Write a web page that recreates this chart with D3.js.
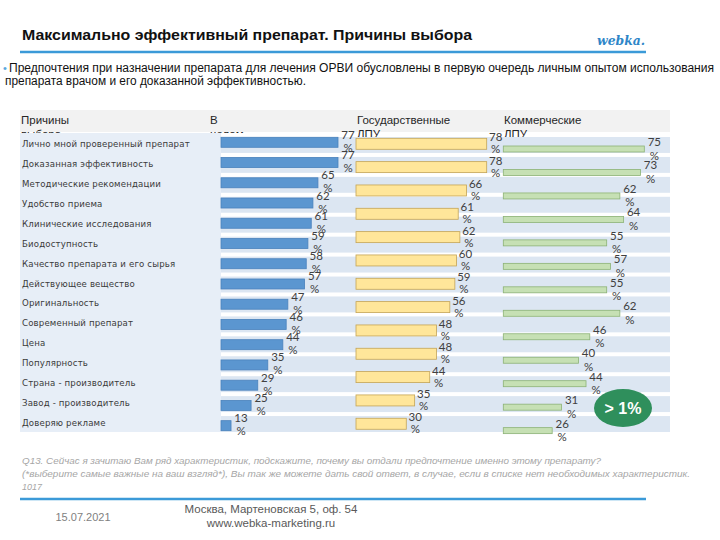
<!DOCTYPE html>
<html><head><meta charset="utf-8">
<script src="https://cdn.jsdelivr.net/npm/d3@7"></script>
<style>body{margin:0;background:#fff} svg{display:block}</style>
</head><body>
<script>
// ---------- DATA ----------
const categories = [
  "Лично мной проверенный препарат",
  "Доказанная эффективность",
  "Методические рекомендации",
  "Удобство приема",
  "Клинические исследования",
  "Биодоступность",
  "Качество препарата и его сырья",
  "Действующее вещество",
  "Оригинальность",
  "Современный препарат",
  "Цена",
  "Популярность",
  "Страна - производитель",
  "Завод - производитель",
  "Доверяю рекламе"
];
const totalValues = [77, 77, 65, 62, 61, 59, 58, 57, 47, 46, 44, 35, 29, 25, 13];
const govValues   = [78, 78, 66, 61, 62, 60, 59, 56, 48, 48, 44, 35, 30];
const comValues   = [75, 73, 62, 64, 55, 57, 55, 62, 46, 40, 44, 31, 26];
const columnHeaders = [["Причины", "выбора"], ["В", "целом"], ["Государственные", "ЛПУ"], ["Коммерческие", "ЛПУ"]];
const titleText = "Максимально эффективный препарат. Причины выбора";
const subtitleLines = [
  "Предпочтения при назначении препарата для лечения ОРВИ обусловлены в первую очередь личным опытом использования",
  "препарата врачом и его доказанной эффективностью."
];
const footnoteLines = [
  "Q13. Сейчас я зачитаю Вам ряд характеристик, подскажите, почему вы отдали предпочтение именно этому препарату?",
  "(*выберите самые важные на ваш взгляд*), Вы так же можете дать свой ответ, в случае, если в списке нет необходимых характеристик.",
  "1017"
];
const badgeText = "> 1%";
const logoText = "webka.";
const dateText = "15.07.2021";
const addressLines = ["Москва, Мартеновская 5, оф. 54", "www.webka-marketing.ru"];

// ---------- CHART ----------
const W = 720, H = 540;
const svg = d3.select("body").append("svg").attr("width", W).attr("height", H)
  .style("font-family", "'Liberation Sans', Arial, sans-serif");

const blue = "#3b9ad8";

// Title
svg.append("text").attr("x", 22).attr("y", 40)
  .attr("font-size", 15.5).attr("font-weight", "bold").attr("fill", "#111")
  .attr("textLength", 450).attr("lengthAdjust", "spacingAndGlyphs")
  .text(titleText);
svg.append("text").attr("x", 597).attr("y", 45)
  .attr("font-family", "'DejaVu Serif', serif").attr("font-style", "italic").attr("font-weight", "bold")
  .attr("font-size", 12.5).attr("fill", "#2e86c8")
  .attr("textLength", 48).attr("lengthAdjust", "spacingAndGlyphs")
  .text(logoText);
svg.append("line").attr("x1", 20).attr("x2", 646).attr("y1", 52).attr("y2", 52)
  .attr("stroke", blue).attr("stroke-width", 2.5);

// Subtitle
svg.append("text").attr("x", 3).attr("y", 72).attr("font-size", 11).attr("fill", "#5aa7dc").text("•");
svg.append("text").attr("x", 9).attr("y", 72).attr("font-size", 12).attr("fill", "#111")
  .attr("textLength", 705).attr("lengthAdjust", "spacingAndGlyphs").text(subtitleLines[0]);
svg.append("text").attr("x", 5).attr("y", 85).attr("font-size", 12).attr("fill", "#111")
  .attr("textLength", 301).attr("lengthAdjust", "spacingAndGlyphs").text(subtitleLines[1]);

// Table header band
svg.append("rect").attr("x", 20).attr("y", 110).attr("width", 650).attr("height", 22).attr("fill", "#f2f2f2");
const headerX = [21, 210, 357, 504];
const defs = svg.append("defs");
defs.append("clipPath").attr("id", "hclip").append("rect").attr("x", 0).attr("y", 100).attr("width", 354).attr("height", 33);
columnHeaders.forEach((h, i) => {
  const t = svg.append("text").attr("x", headerX[i]).attr("y", 124).attr("font-size", 11.5).attr("fill", "#262626");
  if (i < 2) t.attr("clip-path", "url(#hclip)");
  t.append("tspan").attr("x", headerX[i]).attr("dy", 0).text(h[0]);
  t.append("tspan").attr("x", headerX[i]).attr("dy", 13.5).text(h[1]);
});

// Rows
const rowScale = d3.scaleBand().domain(categories).range([133, 432]);
svg.append("rect").attr("x", 20).attr("y", 133).attr("width", 201).attr("height", 299).attr("fill", "#e7eef7");
svg.append("g").selectAll("rect").data(categories).join("rect")
  .attr("x", 221).attr("width", 449)
  .attr("y", d => rowScale(d) + 4).attr("height", rowScale.step() - 4)
  .attr("fill", "#dce6f2");
svg.append("g").selectAll("text").data(categories).join("text")
  .attr("x", 22).attr("y", d => rowScale(d) + 14)
  .attr("font-family", "'DejaVu Sans', sans-serif").attr("font-size", 8.6)
  .attr("letter-spacing", 0.15).attr("fill", "#3a3a3a")
  .text(d => d);

// Column 1: total
const xTotal = d3.scaleLinear().domain([7, 77]).range([221, 338]);
const yTotal = d3.scaleBand().domain(categories).range([137.3, 137.3 + 15 * 20.24]);
// Column 2: state
const xGov = d3.scaleLinear().domain([0, 78]).range([356, 486.7]);
const yGov = d3.scaleBand().domain(d3.range(govValues.length)).range([138.3, 138.3 + 13 * 23.33]);
// Column 3: commercial
const xCom = d3.scaleLinear().domain([0, 75]).range([503.3, 644.3]);
const yCom = d3.scaleBand().domain(d3.range(comValues.length)).range([146, 146 + 13 * 23.47]);

const cols = [
  {vals: totalValues, keys: categories, x: xTotal, y: yTotal, h: 10, fill: "#5b96d0", stroke: "#4a82bc", dx: 10, dy1: 1.5, dy2: 14.5},
  {vals: govValues, keys: d3.range(govValues.length), x: xGov, y: yGov, h: 11, fill: "#ffe69a", stroke: "#c4a456", dx: 9, dy1: 3, dy2: 15},
  {vals: comValues, keys: d3.range(comValues.length), x: xCom, y: yCom, h: 6, fill: "#c6e0b4", stroke: "#8cb276", dx: 10, dy1: 0, dy2: 13.5}
];
cols.forEach(c => {
  const g = svg.append("g");
  const x0 = c.x.range()[0];
  g.selectAll("rect").data(c.vals).join("rect")
    .attr("x", x0).attr("y", (d, i) => c.y(c.keys[i]))
    .attr("width", d => c.x(d) - x0).attr("height", c.h)
    .attr("fill", c.fill).attr("stroke", c.stroke).attr("stroke-width", 0.8);
  const lg = svg.append("g").attr("font-family", "Lato, 'Open Sans', sans-serif").attr("font-size", 11.5).attr("fill", "#404040").attr("text-anchor", "middle");
  c.vals.forEach((d, i) => {
    const cx = c.x(d) + c.dx, top = c.y(c.keys[i]);
    lg.append("text").attr("x", cx).attr("y", top + c.dy1).text(d);
    lg.append("text").attr("x", cx).attr("y", top + c.dy2).text("%");
  });
});

// Badge
svg.append("ellipse").attr("cx", 623).attr("cy", 408).attr("rx", 29).attr("ry", 19).attr("fill", "#2f8f5c");
svg.append("text").attr("x", 623).attr("y", 414).attr("text-anchor", "middle")
  .attr("font-size", 16).attr("font-weight", "bold").attr("fill", "#fff").text(badgeText);

// Footnote
const fnLen = [579, 668, null];
footnoteLines.forEach((t, i) => {
  const el = svg.append("text").attr("x", 22).attr("y", 464 + i * 13)
    .attr("font-size", 9).attr("font-style", "italic").attr("fill", "#a6a6a6").text(t);
  if (fnLen[i]) el.attr("textLength", fnLen[i]).attr("lengthAdjust", "spacingAndGlyphs");
});

// Footer
svg.append("line").attr("x1", 20).attr("x2", 646).attr("y1", 499).attr("y2", 499)
  .attr("stroke", blue).attr("stroke-width", 2.5);
svg.append("text").attr("x", 83).attr("y", 521).attr("text-anchor", "middle")
  .attr("font-size", 11).attr("fill", "#7f7f7f").text(dateText);
addressLines.forEach((t, i) => {
  svg.append("text").attr("x", 271).attr("y", 513 + i * 14).attr("text-anchor", "middle")
    .attr("font-size", 11.5).attr("fill", "#595959").text(t);
});
</script>
</body></html>
